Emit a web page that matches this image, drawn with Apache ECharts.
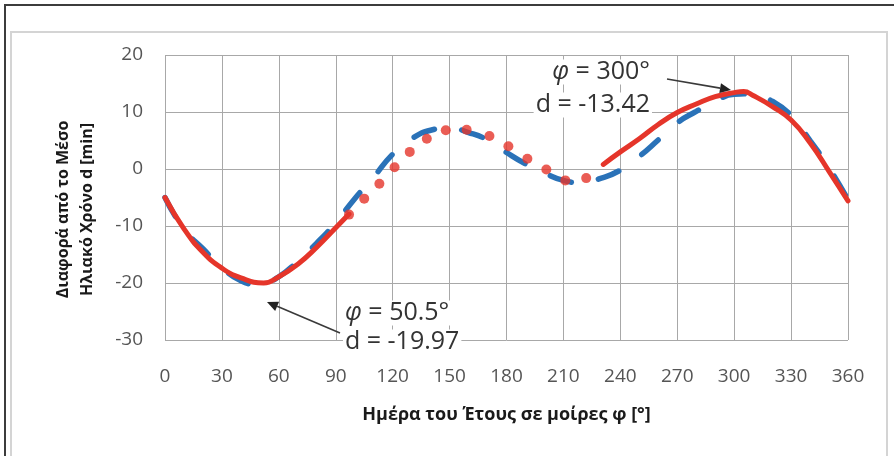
<!DOCTYPE html>
<html>
<head>
<meta charset="utf-8">
<script src="https://cdn.jsdelivr.net/npm/echarts@6/dist/echarts.min.js"></script>
<style>
html,body{margin:0;padding:0;background:#fff;}
#c{width:894px;height:456px;}
</style>
</head>
<body>
<div id="c"></div>
<script>
// ---- data ----
const xTicks = [0, 30, 60, 90, 120, 150, 180, 210, 240, 270, 300, 330, 360];
const yTicks = [-30, -20, -10, 0, 10, 20];

// blue long-dash curve
const blueX = [0, 10, 20, 30, 40, 50, 60, 70, 80, 90, 100, 110, 120, 130, 140, 150, 160, 170, 180, 190, 200, 210, 220, 230, 240, 250, 260, 270, 280, 290, 300, 310, 320, 330, 340, 350, 360];
const blueY = [-5.0, -10.6, -14.0, -17.3, -19.6, -20.3, -18.9, -16.2, -13.0, -9.4, -5.2, -1.4, 2.6, 5.3, 6.8, 7.2, 6.4, 5.1, 2.9, 0.9, -0.7, -2.0, -2.4, -1.6, -0.2, 2.2, 5.1, 8.1, 10.1, 11.9, 13.1, 13.2, 11.9, 9.4, 5.0, 0.2, -5.4];

// red solid, first part
const redAX = [0, 10, 20, 30, 40, 52, 60, 70, 80, 90, 97];
const redAY = [-5.0, -10.5, -14.6, -17.4, -19.1, -20.0, -18.9, -16.7, -13.7, -10.3, -7.9];

// red dotted part (dots)
const redDotX = [97, 105, 113, 121, 129, 138, 148, 159, 171, 181, 191, 201, 211, 222];
const redDotY = [-8.0, -5.2, -2.6, 0.3, 3.0, 5.3, 6.8, 6.9, 5.8, 4.0, 1.8, -0.1, -2.0, -1.6];

// red solid, second part
const redBX = [231, 240, 250, 260, 270, 280, 290, 300, 305, 310, 320, 330, 340, 350, 360];
const redBY = [0.8, 3.0, 5.3, 7.8, 9.9, 11.4, 12.7, 13.4, 13.6, 12.9, 11.0, 8.6, 4.6, -0.4, -5.6];

// annotation texts
const annTop = ['φ = 300°', 'd = -13.42'];
const annBottom = ['φ = 50.5°', 'd = -19.97'];

const xName = 'Ημέρα του Έτους σε μοίρες φ [°]';
const yName = 'Διαφορά από το Μέσο\nΗλιακό Χρόνο d [min]';

const zip = (a, b) => a.map((v, i) => [v, b[i]]);

const BLUE = '#2a72b8';
const RED = '#e5352a';
const FONT = "'Open Sans', 'Noto Sans', sans-serif";

const chart = echarts.init(document.getElementById('c'), null, {renderer: 'canvas'});

function arrow(x1, y1, x2, y2) {
  const ang = Math.atan2(y2 - y1, x2 - x1);
  const L = 11, W = 5;
  const bx = x2 - L * Math.cos(ang), by = y2 - L * Math.sin(ang);
  const px = -Math.sin(ang) * W, py = Math.cos(ang) * W;
  return [
    {type: 'line', shape: {x1: x1, y1: y1, x2: bx, y2: by}, style: {stroke: '#3a3a3a', lineWidth: 1.6}, z: 20},
    {type: 'polygon', shape: {points: [[x2, y2], [bx + px, by + py], [bx - px, by - py]]}, style: {fill: '#222'}, z: 20}
  ];
}

function annText(str, x, y, align) {
  return {
    type: 'text', z: 15,
    style: {
      text: str.replace('φ', '{i|φ}'),
      x: x, y: y, align: align, verticalAlign: 'middle',
      fontFamily: FONT, fontSize: 25, fill: '#333',
      backgroundColor: '#fff', padding: [0, 2],
      rich: {i: {fontStyle: 'italic', fontFamily: FONT, fontSize: 25, fill: '#333'}}
    }
  };
}

const option = {
  animation: false,
  backgroundColor: '#fff',
  grid: {left: 165, right: 46, top: 55, bottom: 116},
  xAxis: {
    type: 'value', min: 0, max: 360, interval: 30,
    name: xName, nameLocation: 'middle', nameGap: 66,
    nameTextStyle: {fontFamily: FONT, fontSize: 18, fontWeight: 'bold', color: '#1a1a1a'},
    axisLine: {show: false}, axisTick: {show: false},
    axisLabel: {margin: 27, fontFamily: FONT, fontSize: 19, color: '#555'},
    splitLine: {show: true, lineStyle: {color: '#a8a8a8', width: 1}}
  },
  yAxis: {
    type: 'value', min: -30, max: 20, interval: 10,
    name: yName, nameLocation: 'middle', nameGap: 66, nameRotate: 90,
    nameTextStyle: {fontFamily: FONT, fontSize: 16, fontWeight: 'bold', color: '#1a1a1a', lineHeight: 24, padding: [0, 24, 0, 0]},
    axisLine: {show: false}, axisTick: {show: false},
    axisLabel: {margin: 22, fontFamily: FONT, fontSize: 19, color: '#555'},
    splitLine: {show: true, lineStyle: {color: '#a8a8a8', width: 1}}
  },
  series: [
    {
      name: 'blue', type: 'line', data: zip(blueX, blueY), smooth: true, symbol: 'none', z: 2,
      lineStyle: {color: BLUE, width: 5.5, type: [22, 28], cap: 'round'}
    },
    {
      name: 'redA', type: 'line', data: zip(redAX, redAY), smooth: true, symbol: 'none', z: 3,
      lineStyle: {color: RED, width: 5, cap: 'round'}
    },
    {
      name: 'redDots', type: 'scatter', data: zip(redDotX, redDotY), symbol: 'circle', symbolSize: 10, z: 4,
      itemStyle: {color: RED}
    },
    {
      name: 'redB', type: 'line', data: zip(redBX, redBY), smooth: true, symbol: 'none', z: 3,
      lineStyle: {color: RED, width: 5, cap: 'round'}
    }
  ],
  graphic: [
    {type: 'rect', shape: {x: 5, y: 5, width: 900, height: 470}, style: {fill: 'none', stroke: '#3c3c3c', lineWidth: 2}, z: 1},
    {type: 'rect', shape: {x: 11, y: 32, width: 876, height: 450}, style: {fill: 'none', stroke: '#d4d4d4', lineWidth: 2}, z: 1},
    annText(annTop[0], 652, 72, 'right'),
    annText(annTop[1], 652, 105, 'right'),
    annText(annBottom[0], 343, 313, 'left'),
    annText(annBottom[1], 343, 342, 'left')
  ].concat(arrow(667, 79, 731, 90)).concat(arrow(340, 333, 267, 302))
};

chart.setOption(option);
</script>
</body>
</html>
